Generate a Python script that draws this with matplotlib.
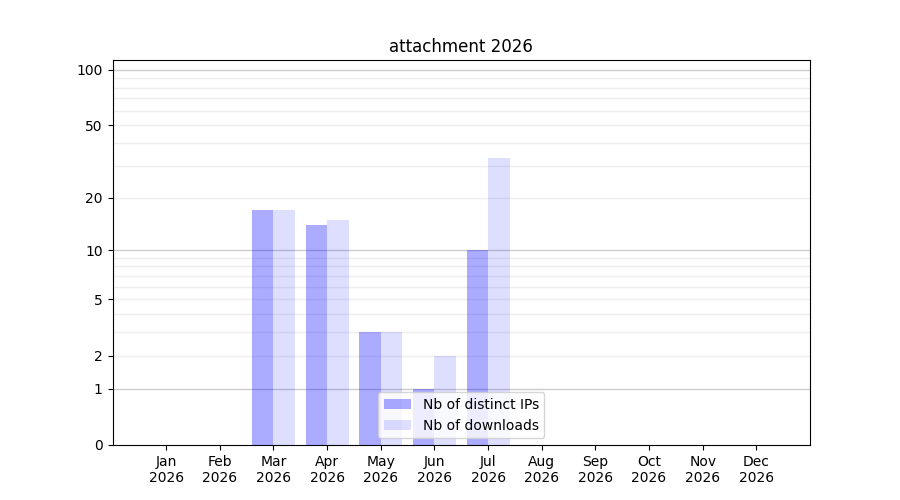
import numpy as np
import matplotlib
matplotlib.use("Agg")
import matplotlib.pyplot as plt
from matplotlib.ticker import FixedLocator

months = ["Jan", "Feb", "Mar", "Apr", "May", "Jun", "Jul", "Aug", "Sep", "Oct", "Nov", "Dec"]
year = "2026"
distinct_ips = [0, 0, 17, 14, 3, 1, 10, 0, 0, 0, 0, 0]
downloads = [0, 0, 17, 15, 3, 2, 33, 0, 0, 0, 0, 0]
yticks = [0, 1, 2, 5, 10, 20, 50, 100]


def fwd(v):
    return np.log10(1 + np.clip(v, 0, None))


def inv(v):
    return 10 ** v - 1


fig, ax = plt.subplots(figsize=(9, 5), dpi=100)
x = np.arange(len(months))
w = 0.4
ax.bar(x, distinct_ips, width=-w, align="edge", color="blue", alpha=0.33,
       label="Nb of distinct IPs")
ax.bar(x, downloads, width=w, align="edge", color="blue", alpha=0.13,
       label="Nb of downloads")

ax.set_yscale("function", functions=(fwd, inv))
ax.set_ylim(0, 113)
ax.yaxis.set_major_locator(FixedLocator(yticks))
ax.set_yticklabels([str(t) for t in yticks])
minor = list(range(2, 10)) + list(range(20, 100, 10))
ax.yaxis.set_minor_locator(FixedLocator(minor))
ax.tick_params(axis="y", which="minor", length=0)
for v in [1, 10, 100]:
    ax.axhline(v, color="#cccccc", linewidth=1, zorder=0)
for v in minor:
    ax.axhline(v, color="#eeeeee", linewidth=1, zorder=0)

ax.set_xticks(x)
ax.set_xticklabels([f"{m}\n{year}" for m in months])
ax.set_xlim(-1, 12)
ax.set_title("attachment 2026")
ax.legend(loc="lower center")

fig.savefig("out.png")
